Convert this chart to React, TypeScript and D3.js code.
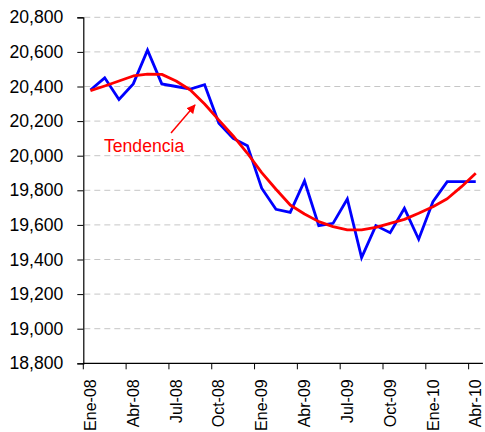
import React, { useEffect, useRef } from 'react';
import * as d3 from 'd3';

// Month labels (Spanish), Ene-08 .. Abr-10
const months = [
  'Ene-08', 'Feb-08', 'Mar-08', 'Abr-08', 'May-08', 'Jun-08', 'Jul-08', 'Ago-08', 'Sep-08', 'Oct-08', 'Nov-08', 'Dic-08',
  'Ene-09', 'Feb-09', 'Mar-09', 'Abr-09', 'May-09', 'Jun-09', 'Jul-09', 'Ago-09', 'Sep-09', 'Oct-09', 'Nov-09', 'Dic-09',
  'Ene-10', 'Feb-10', 'Mar-10', 'Abr-10'
];

// Monthly series (blue)
const serie = [
  20380, 20450, 20325, 20415, 20610, 20415, 20400, 20385, 20410, 20187, 20100, 20058,
  19812, 19690, 19672, 19854, 19596, 19609, 19750, 19411, 19596, 19555, 19696, 19517,
  19734, 19850, 19850, 19850
];

// Trend (red)
const tendencia = [
  20376, 20403, 20432, 20461, 20472, 20470, 20432, 20380, 20299, 20206, 20114, 20014,
  19902, 19806, 19715, 19663, 19619, 19590, 19571, 19571, 19586, 19609, 19632, 19667,
  19705, 19751, 19821, 19898
];

const yTicks = [18800, 19000, 19200, 19400, 19600, 19800, 20000, 20200, 20400, 20600, 20800];

const App = () => {
  const svgRef = useRef<SVGSVGElement | null>(null);

  useEffect(() => {
    const svg = d3.select(svgRef.current);
    svg.selectAll('*').remove();

    const left = 83.3, right = 482.9, top = 17.3, bottom = 363.3;
    const font = '"Liberation Sans", Arial, sans-serif';

    const x = d3.scaleBand<number>()
      .domain(months.map((_, i) => i))
      .range([left, right])
      .padding(0);
    const cx = (i: number) => (x(i) as number) + x.bandwidth() / 2;

    const y = d3.scaleLinear().domain([18800, 20800]).range([bottom, top]);

    // Grid lines
    svg.append('g')
      .selectAll('line')
      .data(yTicks.filter(d => d !== 18800))
      .enter()
      .append('line')
      .attr('x1', left + 1)
      .attr('x2', right)
      .attr('y1', d => y(d))
      .attr('y2', d => y(d))
      .attr('stroke', '#c6c6c6')
      .attr('stroke-width', 1)
      .attr('stroke-dasharray', '6,4');

    // Y axis
    const yAxis = svg.append('g')
      .attr('transform', `translate(${left},0)`)
      .call(d3.axisLeft(y).tickValues(yTicks).tickSize(6).tickPadding(14).tickFormat(d3.format(',')));
    yAxis.select('.domain').attr('stroke', '#000').attr('stroke-width', 1.2);
    yAxis.selectAll('line').attr('stroke', '#000');
    yAxis.selectAll('text')
      .style('font-family', font)
      .style('font-size', '17.6px')
      .attr('fill', '#000');

    // X axis (ticks between categories, every 3 months)
    const xg = svg.append('g');
    xg.append('line')
      .attr('x1', left)
      .attr('x2', right)
      .attr('y1', bottom)
      .attr('y2', bottom)
      .attr('stroke', '#000')
      .attr('stroke-width', 1.2);
    const tickIdx = months.map((_, i) => i).filter(i => i % 3 === 0);
    xg.selectAll('.xt')
      .data(tickIdx)
      .enter()
      .append('line')
      .attr('x1', d => x(d) as number)
      .attr('x2', d => x(d) as number)
      .attr('y1', bottom)
      .attr('y2', bottom + 6)
      .attr('stroke', '#000');
    xg.selectAll('.xl')
      .data(tickIdx)
      .enter()
      .append('text')
      .attr('transform', d => `translate(${cx(d)},${bottom + 16}) rotate(-90)`)
      .attr('text-anchor', 'end')
      .attr('dy', '0.35em')
      .style('font-family', font)
      .style('font-size', '16px')
      .attr('fill', '#000')
      .text(d => months[d]);

    const line = d3.line<number>()
      .x((_, i) => cx(i))
      .y(d => y(d));

    svg.append('path')
      .datum(serie)
      .attr('d', line)
      .attr('fill', 'none')
      .attr('stroke', '#0000ff')
      .attr('stroke-width', 2.8)
      .attr('stroke-linejoin', 'miter');

    svg.append('path')
      .datum(tendencia)
      .attr('d', line)
      .attr('fill', 'none')
      .attr('stroke', '#ff0000')
      .attr('stroke-width', 2.8)
      .attr('stroke-linejoin', 'round');

    // Annotation
    svg.append('defs')
      .append('marker')
      .attr('id', 'arrow')
      .attr('viewBox', '0 0 10 10')
      .attr('refX', 9)
      .attr('refY', 5)
      .attr('markerWidth', 6)
      .attr('markerHeight', 6)
      .attr('orient', 'auto')
      .append('path')
      .attr('d', 'M0,0 L10,5 L0,10 z')
      .attr('fill', '#ff0000');

    svg.append('line')
      .attr('x1', 171)
      .attr('y1', 133)
      .attr('x2', 195)
      .attr('y2', 105)
      .attr('stroke', '#ff0000')
      .attr('stroke-width', 1.5)
      .attr('marker-end', 'url(#arrow)');

    svg.append('text')
      .attr('x', 104)
      .attr('y', 151.5)
      .style('font-family', font)
      .style('font-size', '17.6px')
      .attr('fill', '#ff0000')
      .text('Tendencia');
  }, []);

  return (
    <svg
      ref={svgRef}
      width={485}
      height={432}
      style={{ position: 'absolute', left: 0, top: 0, background: '#fff' }}
    />
  );
};

export default App;
